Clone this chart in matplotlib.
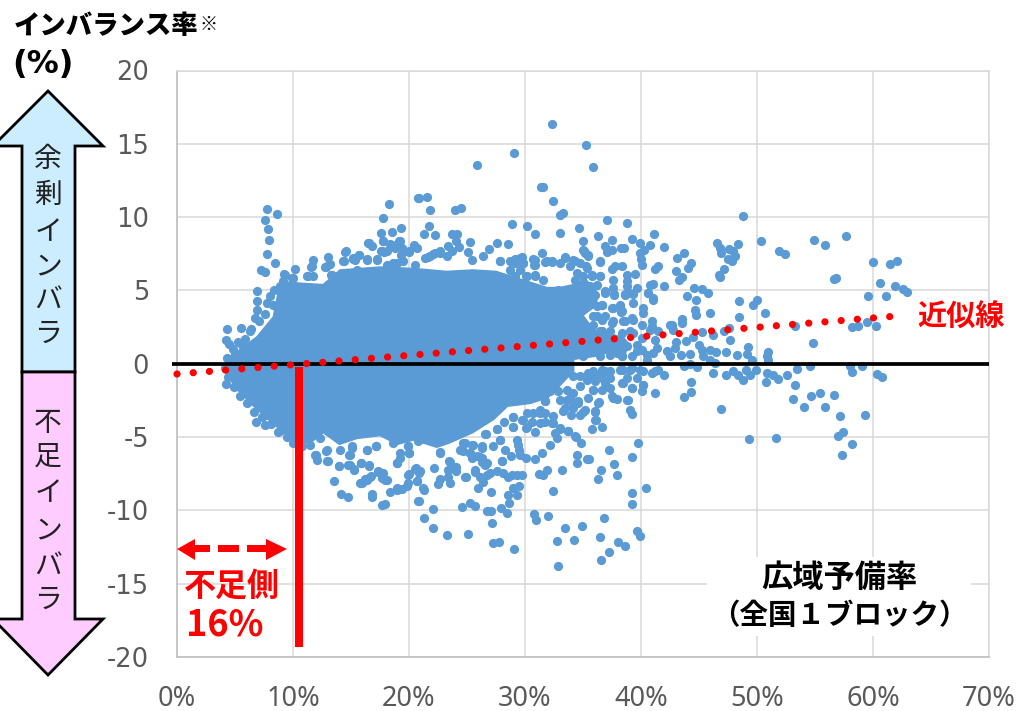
import numpy as np
import matplotlib
matplotlib.use("Agg")
import matplotlib.pyplot as plt
from matplotlib.patches import Polygon, Rectangle

JP = ["Noto Sans CJK JP", "DejaVu Sans"]

# dense centre of the cloud, read as an outline (reserve %, imbalance %)
core_x = [4.2, 4.6, 5.5, 6.9, 8.3, 8.9, 10.6, 12.6, 14.05, 17.5, 20.4, 23.25, 25.5, 27.5, 29.3, 31.9, 33, 34.2, 35.2, 36.2,
          36.2, 35, 36, 37.5, 38.5, 39, 36, 34.2, 34.2, 33, 32, 30.5, 28.5, 27.3, 25.5, 23.5, 22.4, 20.4, 19, 17.5,
          15.5, 14, 12.6, 11.5, 10.2, 8.6, 6.6, 5.1, 4.2]
core_y = [-0.2, 0.5, 1.0, 1.85, 3.2, 5.6, 5.5, 5.4, 6.4, 6.6, 6.5, 6.3, 6.4, 6.3, 5.85, 5.2, 5.2, 5.4, 5.8, 4.9,
          4.0, 3.3, 2.2, 2.0, 1.8, 1.2, 0.5, 0.3, -0.5, -1.5, -2.3, -2.7, -2.9, -3.8, -4.7, -5.4, -5.7, -5.2, -5.5, -4.9,
          -5.1, -5.5, -4.7, -5.4, -5.3, -4.3, -2.9, -1.7, -0.6]

# single points around the cloud
upper_left = [(7.76, 10.55), (8.59, 10.2), (7.62, 9.78), (7.84, 9.19), (7.9, 8.44), (7.79, 7.46), (8.48, 6.89),
              (7.21, 6.37), (7.59, 6.23), (6.93, 4.98), (18.3, 10.87), (17.8, 9.96), (20.75, 11.3), (19.3, 9.23),
              (18.56, 8.98), (17.56, 8.94), (17.8, 8.39), (16.5, 8.23), (16.8, 8.0), (14.5, 7.64), (13.0, 7.25),
              (11.75, 7.05), (10.2, 6.48), (9.25, 6.14), (14.3, 6.98), (13.2, 6.82), (12.8, 6.57), (11.6, 6.64),
              (18.4, 8.16), (19.2, 8.34), (20.4, 8.1), (20, 7.64), (19.3, 7.43), (17.56, 7.66), (17.87, 7.6),
              (17.2, 7.14), (16.35, 7.14), (15.7, 7.41), (15.2, 7.14), (8.88, 5.28), (9.17, 5.62), (9.88, 5.85),
              (11.18, 5.96), (11.75, 5.96), (13.33, 6.07), (13.48, 5.62), (14.63, 6.19), (15.49, 6.41), (15.34, 7.1),
              (18.07, 6.75), (18.94, 6.87), (20.52, 6.75), (6.87, 3.68), (6.73, 3.12), (6.87, 4.25), (7.73, 4.14),
              (8.3, 4.03), (4.34, 2.37), (5.49, 2.43), (6.29, 2.21), (4.22, 1.59), (4.51, 1.37), (5.58, 1.25), (5.0, 0.73)]

left_fringe = [(8.05, 4.6), (8.4, 5.0), (7.6, 3.4), (7.1, 2.9), (6.4, 2.4), (5.9, 1.7), (5.3, 1.5), (4.8, 1.0), (4.3, 0.4),
               (4.1, -0.3), (4.4, -0.9), (4.9, -1.6), (5.4, -2.2), (6.0, -2.7), (6.6, -3.3), (7.3, -3.6), (8.1, -4.1),
               (8.9, -4.6), (9.5, -5.0), (10.0, -5.4), (10.8, -5.6)]

upper_mid = [(32.33, 16.35), (35.29, 14.9), (35.83, 13.44), (29.08, 14.39), (25.89, 13.53), (31.35, 12.05),
             (31.52, 12.05), (32.44, 11.08), (33.0, 10.17), (33.25, 10.28), (37.07, 9.8), (38.82, 9.62), (28.85, 9.55),
             (30.2, 9.41), (30.89, 8.82), (33.0, 8.89), (34.66, 9.23), (35.03, 8.39), (36.27, 8.73), (37.5, 8.44),
             (39.23, 8.53), (41.15, 8.82), (39.92, 8.23), (40.78, 8.1), (42.0, 7.94), (36.9, 8.05), (38.3, 7.9),
             (38.56, 7.92), (37.47, 7.78), (37.04, 7.64), (40.26, 7.73), (39.92, 7.55), (35.06, 7.66), (35.46, 7.41),
             (40.03, 7.14), (40.06, 6.75), (36.5, 6.96), (37.76, 6.69), (37.47, 6.48), (38.39, 6.64), (41.47, 6.64),
             (41.24, 6.46), (39.48, 6.12), (38.82, 6.07), (37.62, 5.73), (38.77, 5.62), (38.82, 5.32), (36.5, 5.96),
             (41.06, 5.44), (40.78, 5.34), (42.0, 5.3), (39.63, 5.14), (36.9, 4.94), (37.62, 5.16), (37.67, 4.73),
             (38.62, 4.75), (39.34, 4.78), (40.63, 4.85), (41.06, 4.48), (21.58, 11.35), (20.9, 11.3), (21.84, 10.48),
             (23.97, 10.46), (24.51, 10.62), (21.7, 9.37), (21.3, 8.87), (22.24, 8.78), (23.74, 8.85), (24.11, 8.87),
             (24.05, 8.35), (25.23, 8.3), (23.36, 8.0), (24.31, 7.94), (23.74, 7.66), (25.06, 7.6), (27.56, 8.21),
             (28.56, 8.19), (26.93, 7.82), (26.41, 7.37), (25.4, 7.1), (22.67, 7.55), (22.1, 7.5), (21.67, 7.28),
             (31.44, 7.53), (27.85, 6.98), (29.71, 7.28), (29.14, 7.14), (30.72, 7.14), (32.3, 7.03), (31.72, 6.94),
             (33.45, 7.26), (33.02, 6.87), (34.17, 7.1), (34.74, 6.87), (35.23, 6.64), (28.71, 6.41), (29.86, 6.87),
             (29.57, 6.41), (30.86, 6.75), (30.1, 5.96), (30.86, 5.96), (31.58, 5.73), (34.31, 5.73), (35.03, 5.96),
             (35.75, 6.07), (36.47, 5.96), (36.18, 5.4), (35.6, 5.28), (34.46, 6.19), (33.88, 6.64), (32.87, 5.05),
             (33.59, 5.05), (34.6, 4.94), (35.32, 4.82), (36.04, 4.71)]

top_fringe = [(9.31, 6.07), (9.97, 5.84), (11.52, 6.59), (11.32, 5.96), (13.08, 6.8), (12.85, 6.57), (13.28, 6.07),
              (14.54, 7.66), (14.4, 6.98), (15.2, 7.2), (15.69, 7.39), (16.35, 7.09), (17.21, 7.09), (16.55, 8.23),
              (17.79, 8.39), (17.64, 7.71), (18.07, 7.66), (18.51, 8.12), (19.14, 8.35), (18.8, 7.89), (19.37, 7.89),
              (20.03, 7.66), (20.72, 7.89), (18.65, 6.87), (19.51, 6.98), (21.38, 7.21), (22.24, 7.55), (22.67, 7.66),
              (23.25, 7.32), (21.81, 7.32), (27.84, 6.98), (28.7, 7.03), (29.57, 7.21), (29.85, 6.87), (29.14, 6.87),
              (30.86, 7.1), (30.77, 6.75), (31.87, 6.98), (32.3, 6.94), (33.47, 7.21), (34.3, 6.98), (35.31, 6.53),
              (35.17, 7.55), (35.46, 7.32), (35.03, 7.78), (36.46, 6.98), (35.75, 5.96), (30.14, 5.96), (30.86, 6.07),
              (29.14, 5.96)]

mid_right = [(34.31, 4.03), (36.18, 3.91), (36.61, 4.03), (37.62, 3.8), (38.19, 3.96), (38.28, 3.5), (39.34, 4.14),
             (40.2, 3.8), (40.2, 3.46), (41.06, 4.37), (36.18, 3.23), (36.9, 3.23), (37.47, 2.77), (35.89, 2.66),
             (35.17, 2.66), (38.48, 2.89), (39.34, 3.0), (40.06, 2.66), (40.92, 2.89), (40.78, 2.32), (41.5, 2.2),
             (42.5, 2.66), (33.88, 2.66), (33.59, 3.0), (34.46, 2.32), (35.6, 2.09), (36.61, 2.2), (37.19, 1.41),
             (38.48, 1.41), (39.34, 2.09), (40.06, 1.75), (36.47, 1.18), (35.32, 0.96), (34.46, 1.18), (37.9, 0.73),
             (38.34, 0.95), (38.34, 0.5), (39.63, 0.84), (40.49, 0.61), (41.35, 1.07), (42.2, 0.84), (33.02, 0.5),
             (33.88, 0.5), (35.03, 0.5), (36.47, 0.5), (37.33, 0.61), (35.89, -0.52), (36.61, -0.41), (37.33, -0.52),
             (38.48, -0.41), (39.2, -0.3), (39.92, -0.41), (40.92, -0.64), (41.5, -0.46), (42.01, -0.75), (34.17, -0.86),
             (35.6, -0.98), (36.61, -0.98), (37.33, -0.98), (38.77, -0.98), (39.63, -0.98), (38.34, -1.32), (40.2, -1.43),
             (34.74, -1.55), (33.59, -1.77), (32.16, -1.89), (31.3, -1.32), (32.44, -1.32), (30.58, -1.32), (29.57, -1.77),
             (35.89, -1.77), (37.33, -1.66), (39.2, -1.66), (40.06, -1.89), (37.47, -2.23), (37.9, -2.39), (38.85, -2.46),
             (41.21, -2.0), (34.17, -2.0), (34.6, -2.57), (33.59, -2.46), (36.38, -2.64), (31.73, -2.52), (30.29, -2.34),
             (29.28, -2.46), (27.99, -2.18)]

right_fringe = [(36.9, 4.82), (37.67, 4.71), (38.62, 4.71), (39.05, 4.82), (40.63, 4.82), (38.19, 4.03), (37.47, 3.8),
                (36.61, 4.03), (35.89, 3.23), (36.61, 3.0), (38.33, 3.57), (38.62, 2.89), (39.19, 3.12), (40.92, 2.55),
                (37.61, 2.89), (36.46, 2.21), (37.33, 2.21), (38.33, 2.09), (39.05, 2.21), (38.19, 1.3), (38.76, 1.18),
                (39.63, 1.3), (41.2, 1.64), (35.89, 2.09), (35.6, 1.64), (35.32, 2.21), (35.89, 1.18), (36.32, 0.96),
                (37.61, 1.07), (38.33, 0.5), (39.19, 0.5), (40.06, 0.96), (41.06, 0.73), (40.49, 0.27), (33.88, 0.96),
                (35.03, 0.73), (33.3, 0.73), (35.46, -0.63), (36.18, -0.75), (36.9, -0.52), (38.19, -0.41), (39.05, -0.41),
                (40.2, -0.52), (41.2, -0.52), (36.03, -1.2), (36.9, -1.32), (35.32, -1.09), (34.74, -0.86), (38.48, -1.32),
                (39.19, -1.66), (40.2, -1.43), (35.89, -1.77), (36.61, -1.77), (37.61, -2.34), (38.82, -2.45), (36.32, -2.68),
                (34.6, -2.68), (33.88, -2.34), (32.87, -1.89), (31.72, -2.57), (31.29, -3.14), (33.02, -2.45), (34.17, -3.02),
                (35.46, -2.34)]

lower_mid = [(33.3, -3.25), (34.0, -3.48), (34.74, -3.48), (35.17, -3.14), (36.04, -3.25), (36.09, -3.82), (39.05, -3.14),
             (39.25, -3.43), (32.44, -3.59), (31.73, -3.36), (30.72, -3.36), (29.71, -3.82), (31.3, -4.05), (32.3, -4.05),
             (30.15, -4.34), (29.0, -3.61), (29.0, -4.3), (28.19, -4.0), (27.62, -4.43), (30.84, -4.64), (33.02, -4.43),
             (32.59, -4.73), (33.68, -4.62), (35.8, -4.48), (36.67, -4.3), (26.61, -4.82), (34.37, -5.0), (34.8, -5.41),
             (32.73, -5.07), (32.16, -5.57), (31.44, -6.09), (30.89, -6.48), (39.71, -5.43), (37.27, -5.91), (39.23, -6.37),
             (34.46, -6.21), (34.51, -6.8), (35.32, -6.5), (35.55, -6.5), (37.65, -6.87), (36.58, -7.23), (37.93, -7.6),
             (36.32, -7.84), (33.22, -7.25), (31.87, -7.28), (31.24, -7.5), (31.58, -7.62), (29.28, -5.18), (29.43, -5.52),
             (29.51, -5.87), (28.28, -5.91), (28.77, -6.32), (28.02, -6.64), (30.06, -6.43), (29.57, -6.21), (27.85, -5.18),
             (27.27, -5.64), (25.4, -5.52), (26.27, -5.75), (24.69, -5.41), (25.26, -6.09), (26.27, -6.43), (26.55, -6.89),
             (24.69, -5.98), (25.84, -6.32), (22.67, -6.09), (23.48, -6.62), (24.05, -7.05), (24.05, -7.34), (22.13, -7.12),
             (20.95, -7.3), (25.69, -7.28), (26.12, -7.69), (26.41, -8.09), (26.98, -7.46), (27.56, -7.3), (28.14, -7.46),
             (28.56, -7.69), (29.28, -7.57), (29.71, -7.57), (25.98, -8.44), (27.04, -8.75), (24.92, -7.69), (23.39, -7.73),
             (22.67, -7.84), (22.53, -8.21), (29.51, -8.32), (29.0, -8.48), (28.56, -8.94), (29.28, -8.98), (28.62, -9.5),
             (21.3, -8.6), (20.9, -9.39), (22.04, -9.89), (24.57, -9.78), (25.26, -9.5), (25.69, -9.69), (26.7, -10.03),
             (27.04, -10.03), (27.93, -9.85), (28.42, -10.19), (30.81, -10.25), (30.95, -10.64), (32.01, -10.37), (32.39, -8.71),
             (39.25, -8.82), (39.25, -9.55), (40.43, -8.48), (36.84, -10.5), (33.42, -11.19), (34.94, -11.07), (27.16, -10.87),
             (21.32, -10.53), (22.04, -11.19), (23.28, -11.66), (25.06, -11.64), (27.21, -12.23), (27.79, -12.14), (29.02, -12.66),
             (36.5, -11.8), (32.76, -12.1), (34.2, -12.05), (38.02, -12.17), (38.59, -12.41), (39.68, -11.44), (39.92, -11.78),
             (37.21, -12.87), (36.52, -13.37), (32.82, -13.76)]

bottom_fringe = [(12.0, -6.21), (12.9, -5.91), (12.99, -6.66), (13.94, -6.96), (15.06, -5.75), (14.86, -6.21), (14.91, -6.89),
                 (15.26, -7.19), (15.89, -6.8), (16.58, -6.94), (16.41, -5.87), (17.16, -5.64), (17.36, -7.35), (17.93, -7.92),
                 (17.64, -7.46), (16.64, -7.69), (16.21, -7.87), (15.78, -8.1), (18.94, -6.78), (19.22, -6.1), (19.94, -5.64),
                 (20.03, -6.1), (19.94, -7.57), (20.52, -7.19), (20.89, -7.46), (20.72, -8.03), (22.67, -6.05), (23.39, -7.28),
                 (23.54, -8.14), (21.24, -8.48), (19.8, -8.32), (18.94, -8.48), (26.55, -4.8), (27.61, -4.46), (28.99, -3.6),
                 (28.99, -4.32), (29.8, -3.82), (30.08, -4.39), (30.57, -4.0), (30.14, -3.37), (31.29, -3.37), (31.72, -3.94),
                 (32.44, -4.05), (33.02, -4.39), (33.73, -4.62), (34.31, -4.96), (33.45, -3.03), (34.16, -2.91), (35.03, -3.26),
                 (36.03, -3.26), (36.03, -3.82), (24.83, -5.42), (25.54, -5.53), (26.26, -5.64), (24.39, -5.87), (25.26, -6.1),
                 (25.4, -6.44), (26.12, -6.33), (26.26, -6.67), (26.69, -6.78), (27.84, -5.19), (27.99, -6.62), (23.53, -6.67),
                 (23.96, -7.12), (24.83, -7.69), (25.69, -7.35), (26.69, -7.58), (28.85, -7.58)]

lower_left = [(4.22, -1.39), (6.81, -3.98), (7.59, -4.2), (8.68, -4.66), (7.73, -3.48), (11.47, -5.52), (12.33, -5.07),
              (11.9, -6.2), (12.04, -6.55), (12.87, -5.93), (12.96, -6.66), (13.94, -6.96), (14.05, -5.87), (15.06, -5.64),
              (14.91, -6.21), (16.41, -5.87), (17.16, -5.64), (15.86, -6.78), (16.58, -6.93), (14.77, -6.89), (15.26, -7.23),
              (13.54, -8.0), (15.92, -8.1), (16.35, -7.91), (16.72, -7.68), (17.36, -7.34), (17.79, -7.46), (17.64, -7.8),
              (18.07, -7.96), (14.14, -8.89), (14.74, -9.1), (16.78, -8.87), (16.78, -9.1), (17.64, -9.62), (17.93, -9.55),
              (18.36, -8.78), (18.94, -8.64), (19.37, -8.55), (19.94, -8.14), (20.0, -7.53), (20.66, -8.03), (20.8, -9.39),
              (20.6, -7.12), (18.94, -6.78), (19.22, -6.43), (19.94, -5.64), (20.0, -6.09), (18.65, -5.41), (20.8, -5.3)]

far_right = [(48.82, 10.05), (46.52, 8.23), (46.81, 7.89), (46.87, 7.55), (47.59, 7.82), (47.96, 7.66), (48.1, 7.37),
             (47.53, 7.14), (47.82, 7.03), (48.39, 8.16), (50.34, 8.34), (51.87, 7.71), (52.41, 7.5), (54.89, 8.46),
             (55.86, 8.09), (57.7, 8.68), (59.97, 6.96), (61.44, 6.82), (62.04, 7.0), (56.64, 5.77), (56.78, 5.82),
             (60.6, 5.52), (61.93, 5.32), (62.61, 5.09), (62.96, 4.91), (59.6, 4.59), (61.12, 4.61), (43.68, 7.55),
             (43.07, 7.2), (44.28, 6.87), (44.08, 6.52), (42.99, 6.3), (43.51, 5.89), (43.3, 5.68), (47.16, 6.46),
             (46.72, 6.07), (46.81, 5.89), (44.54, 5.2), (45.26, 5.09), (45.8, 4.8), (43.94, 4.64), (44.71, 4.32),
             (48.45, 4.27), (49.97, 4.36), (49.68, 4.02), (50.66, 3.48), (45.92, 3.43), (44.66, 3.68), (44.71, 3.34),
             (48.42, 3.16), (43.56, 3.05), (43.56, 2.77), (42.64, 2.66), (42.73, 2.32), (47.18, 2.25), (47.61, 2.43),
             (47.67, 1.64), (46.24, 1.98), (45.23, 2.14), (53.28, 2.55), (58.16, 2.5), (58.68, 2.55), (59.48, 2.82),
             (60.26, 2.55), (54.86, 1.39), (44.51, 1.8), (43.88, 1.57), (43.02, 1.48), (42.9, 1.07), (42.5, 0.5),
             (45.03, 1.29), (45.23, 0.91), (45.95, 0.95), (46.44, 0.77), (47.33, 0.79), (48.3, 0.61), (49.22, 1.11),
             (49.17, 0.68), (50.98, 0.77), (50.83, 0.5), (50.92, 0.27), (49.54, 0.27), (44.22, 0.68), (43.45, 0.61),
             (45.37, 0.5), (45.95, 0.27), (46.38, 0.04), (43.71, -0.18), (44.22, 0.0), (44.8, -0.25), (46.18, -0.64),
             (47.3, -0.77), (47.96, -0.52), (48.39, -0.75), (48.82, -1.09), (49.4, -0.75), (49.91, -0.46), (49.05, -0.41),
             (50.89, -0.64), (51.41, -0.8), (51.78, -1.05), (52.59, -0.77), (50.75, -1.23), (53.45, -0.34), (54.57, -0.18),
             (58.02, -0.18), (58.19, -0.59), (59.02, -0.18), (60.32, -0.68), (60.75, -0.91), (44.28, -1.23), (44.31, -1.91),
             (43.74, -2.27), (46.9, -3.07), (53.3, -1.48), (53.13, -2.43), (54.08, -2.93), (54.68, -2.18), (55.46, -1.98),
             (56.61, -2.14), (55.86, -2.93), (57.16, -3.55), (59.31, -3.5), (49.28, -5.14), (51.67, -5.09), (56.95, -4.91),
             (57.39, -4.64), (58.16, -5.48), (57.33, -6.19)]

# approximation line and the 10.5 % marker
trend_x = [0.0, 62.0]
trend_y = [-0.7, 3.25]
marker_x = [10.5, 10.5]
marker_y = [-0.2, -19.3]

x_ticks = [0, 10, 20, 30, 40, 50, 60, 70]
x_labels = ["0%", "10%", "20%", "30%", "40%", "50%", "60%", "70%"]
y_ticks = [-20, -15, -10, -5, 0, 5, 10, 15, 20]

BLUE = "#5B9BD5"
RED = "#FF0000"

fig = plt.figure(figsize=(10.18, 7.11), dpi=100)
ax = fig.add_axes([177 / 1018, 54 / 711, 812 / 1018, 586.5 / 711])
ax.set_xlim(0, 70)
ax.set_ylim(-20, 20)

ax.fill(core_x, core_y, color=BLUE, lw=1, zorder=3)
for pts in [upper_left, left_fringe, upper_mid, top_fringe, mid_right, right_fringe, lower_mid, bottom_fringe, lower_left, far_right]:
    pts = np.array(pts)
    ax.scatter(pts[:, 0], pts[:, 1], s=44, color=BLUE, linewidths=0, zorder=3)

ax.plot([-0.45, 70], [0, 0], color="black", lw=2.7, zorder=5, clip_on=False, solid_capstyle="butt")
ax.plot(trend_x, trend_y, color=RED, lw=5.2, ls=(0, (0.01, 2.24)), dash_capstyle="round", zorder=6, clip_on=False)
ax.plot(marker_x, marker_y, color=RED, lw=5.8, zorder=4, solid_capstyle="butt")

ax.set_xticks(x_ticks)
ax.set_xticklabels(x_labels, family="Noto Sans", fontsize=19.5, color="#595959")
ax.set_yticks(y_ticks)
ax.set_yticklabels([str(v) for v in y_ticks], family="DejaVu Sans", fontsize=18.5, color="#595959")
ax.tick_params(axis="x", length=0, pad=20)
ax.tick_params(axis="y", length=0, pad=20)
ax.grid(True, color="#D9D9D9", lw=1.1, zorder=1)
ax.set_axisbelow(True)
for side in ["top", "right"]:
    ax.spines[side].set_color("#D9D9D9")
    ax.spines[side].set_linewidth(1.1)
for side in ["left", "bottom"]:
    ax.spines[side].set_color("#BFBFBF")
    ax.spines[side].set_linewidth(1.2)

# overlay in pixel units for the notes and arrows
ov = fig.add_axes([0, 0, 1, 1], zorder=10)
ov.set_xlim(0, 1018)
ov.set_ylim(711, 0)
ov.axis("off")
ov.patch.set_alpha(0)

ov.add_patch(Polygon([(48, 91), (103, 146), (75, 146), (75, 372), (22, 372), (22, 146), (-7, 146)],
                     closed=True, fc="#CCECFF", ec="black", lw=2))
ov.add_patch(Polygon([(48, 675), (103, 619), (75, 619), (75, 372), (22, 372), (22, 619), (-7, 619)],
                     closed=True, fc="#FFCCFF", ec="black", lw=2))

for ch, py in zip("余剰インバラ", [159, 195, 232, 266, 300, 334]):
    ov.text(48, py, ch, family=JP, fontsize=20, color="#222222", ha="center", va="center")
for ch, py in zip("不足インバラ", [423, 457, 493, 530, 566, 600]):
    ov.text(48, py, ch, family=JP, fontsize=20, color="#222222", ha="center", va="center")

ov.text(14, 26, "インバランス率", family=JP, fontsize=19, fontweight="black", ha="left", va="center")
ov.text(209, 24, "※", family=JP, fontsize=13, fontweight="bold", ha="center", va="center")
ov.text(12, 64, "(%)", family="DejaVu Sans", fontsize=23, fontweight="bold", ha="left", va="center")

ov.text(961, 317, "近似線", family=JP, fontsize=21, fontweight="bold", color=RED, ha="center", va="center")

# red two way arrow, dashed
ov.add_patch(Polygon([(177, 549), (195, 539), (195, 545), (210, 545), (210, 552), (195, 552), (195, 560)], closed=True, fc=RED, ec="none"))
ov.add_patch(Rectangle((218, 545), 21, 7, fc=RED, ec="none"))
ov.add_patch(Polygon([(287, 549), (266, 539), (266, 545), (247, 545), (247, 552), (266, 552), (266, 560)], closed=True, fc=RED, ec="none"))
ov.text(232, 587, "不足側", family=JP, fontsize=23, fontweight="bold", color=RED, ha="center", va="center")
ov.text(225, 625, "16%", family=JP, fontsize=26, fontweight="bold", color=RED, ha="center", va="center")

ov.add_patch(Rectangle((707, 557), 264, 79, fc="white", ec="none"))
ov.text(839, 578, "広域予備率", family=JP, fontsize=22.5, fontweight="bold", ha="center", va="center")
ov.text(839, 616, "（全国１ブロック）", family=JP, fontsize=20.5, fontweight="bold", ha="center", va="center")

fig.savefig("out.png", dpi=100)
